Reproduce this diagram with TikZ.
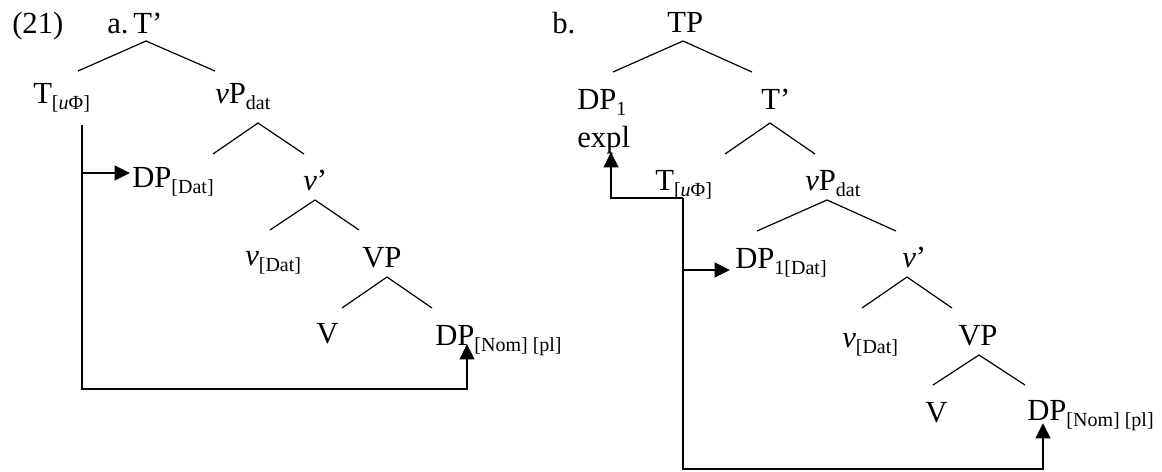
\documentclass[tikz,border=0pt]{standalone}
\usepackage{fontspec}
\setmainfont{Liberation Serif}
\usetikzlibrary{arrows.meta}

\newcommand{\lsub}[1]{\raisebox{-0.2em}{\fontsize{15pt}{15pt}\selectfont #1}}

\begin{document}
\begin{tikzpicture}[
    x=0.75pt, y=-0.75pt,
    font=\fontsize{23pt}{26pt}\selectfont,
    lab/.style={anchor=base west, inner sep=0pt},
    branch/.style={line width=0.9pt, draw=black},
    agree/.style={line width=1.5pt, draw=black, -{Triangle[length=11.5pt, width=11pt]}},
    trunk/.style={line width=1.5pt, draw=black}
]
\useasboundingbox (0,0) rectangle (1162,471);

% tree a
\node[lab] (ex)     at (12,33)  {(21)};
\node[lab] (a-lbl)  at (107,33) {a.};
\node[lab] (a-tbar) at (133,33) {T’};
\node[lab] (a-t)    at (33,103) {T\lsub{[\textit{u}Φ]}};
\node[lab] (a-vp)   at (215,103) {\textit{v}P\lsub{dat}};
\node[lab] (a-dpd)  at (132,187) {DP\lsub{[Dat]}};
\node[lab] (a-vbar) at (303,190) {\textit{v}’};
\node[lab] (a-vd)   at (245,265) {\textit{v}\lsub{[Dat]}};
\node[lab] (a-VP)   at (362,267) {VP};
\node[lab] (a-V)    at (316,343) {V};
\node[lab] (a-dpn)  at (435,345) {DP\lsub{[Nom] [pl]}};

\foreach \ax/\ay/\lx/\ly/\rx/\ry in {146/41/78/71/215/71, 258/123/213/154/304/154,
    315/200/270/230/359/230, 387/277/342/308/432/308} {
    \draw[branch] (\lx,\ly) -- (\ax,\ay) -- (\rx,\ry);
}

\coordinate (a-src)  at (82,125);
\coordinate (a-fork) at (82,173);
\coordinate (a-low)  at (82,389);
\coordinate (a-goal) at (467,344);
\coordinate (a-hit)  at (130,173);
\draw[agree] (a-src) -- (a-low) -| (a-goal);
\draw[agree] (a-fork) -- (a-hit);

% tree b
\node[lab] (b-lbl)  at (552,33)  {b.};
\node[lab] (b-tp)   at (667,32)  {TP};
\node[lab] (b-dp)   at (577,109) {DP\lsub{1}};
\node[lab] (b-expl) at (577,147) {expl};
\node[lab] (b-tbar) at (761,109) {T’};
\node[lab] (b-t)    at (655,190) {T\lsub{[\textit{u}Φ]}};
\node[lab] (b-vp)   at (805,190) {\textit{v}P\lsub{dat}};
\node[lab] (b-dpd)  at (735,268) {DP\lsub{1[Dat]}};
\node[lab] (b-vbar) at (902,267) {\textit{v}’};
\node[lab] (b-vd)   at (842,347) {\textit{v}\lsub{[Dat]}};
\node[lab] (b-VP)   at (958,345) {VP};
\node[lab] (b-V)    at (925,422) {V};
\node[lab] (b-dpn)  at (1027,420) {DP\lsub{[Nom] [pl]}};

\foreach \ax/\ay/\lx/\ly/\rx/\ry in {683/41/613/72/752/72, 770/123/725/154/815/154,
    827/200/757/231/896/231, 907/277/862/308/952/308, 979/355/933/385/1025/385} {
    \draw[branch] (\lx,\ly) -- (\ax,\ay) -- (\rx,\ry);
}

\coordinate (b-src)  at (683,198);
\coordinate (b-expl-in) at (611,152);
\coordinate (b-fork) at (683,270);
\coordinate (b-low)  at (683,469);
\coordinate (b-goal) at (1043,423);
\coordinate (b-hit)  at (730,270);
\draw[agree] (b-src) -| (b-expl-in);
\draw[agree] (b-src) -- (b-low) -| (b-goal);
\draw[agree] (b-fork) -- (b-hit);

\end{tikzpicture}
\end{document}
